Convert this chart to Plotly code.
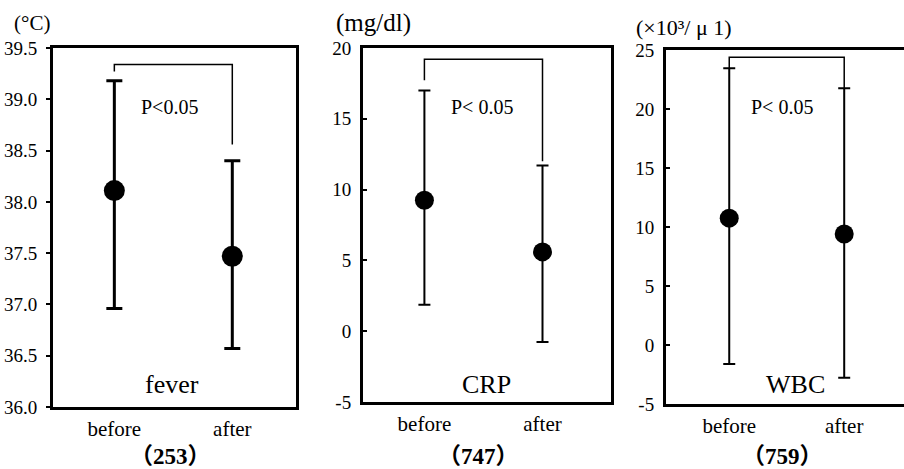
import plotly.graph_objects as go

# ---------------- data ----------------
categories = ["before", "after"]
cat_pos = [0, 1]

fever_mean = [38.11, 37.47]
fever_upper = [39.18, 38.40]
fever_lower = [36.96, 36.57]

crp_mean = [9.25, 5.6]
crp_upper = [17.0, 11.7]
crp_lower = [1.86, -0.77]

wbc_mean = [10.75, 9.4]
wbc_upper = [23.45, 21.75]
wbc_lower = [-1.6, -2.77]

bracket_top = [39.34, 19.2, 24.38]
bracket_left_end = [39.27, 17.73, 23.45]
bracket_right_end = [38.56, 12.0, 21.75]

panel_names = ["fever", "CRP", "WBC"]
panel_units = ["(°C)", "(mg/dl)", "(×10³/ μ 1)"]
panel_counts = ["（253）", "（747）", "（759）"]
p_labels = ["P<0.05", "P< 0.05", "P< 0.05"]

fever_ticks = [36.0, 36.5, 37.0, 37.5, 38.0, 38.5, 39.0, 39.5]
fever_tick_labels = ["36.0", "36.5", "37.0", "37.5", "38.0", "38.5", "39.0", "39.5"]
crp_ticks = [-5, 0, 5, 10, 15, 20]
crp_tick_labels = ["-5", "0", "5", "10", "15", "20"]
wbc_ticks = [-5, 0, 5, 10, 15, 20, 25]
wbc_tick_labels = ["-5", "0", "5", "10", "15", "20", "25"]

y_ranges = [[36.0, 39.5], [-5, 20], [-5, 25]]

# ---------------- layout geometry (pixels) ----------------
W, H = 904, 469
boxes = [  # left, right, top, bottom
    (53, 296, 48, 407),
    (363, 611, 48, 402),
    (666, 904, 50, 404),
]
x_ranges = [[-0.52, 1.54], [-0.52, 1.58], [-0.55, 1.52]]
err_w = [3, 2, 2]
cap_w = [8, 6, 6]
dot_size = [21, 19, 19]

FONT = "Liberation Serif"
FONT_CJK = "Liberation Serif, Noto Sans CJK JP, serif"

means = [fever_mean, crp_mean, wbc_mean]
uppers = [fever_upper, crp_upper, wbc_upper]
lowers = [fever_lower, crp_lower, wbc_lower]
ticks = [fever_ticks, crp_ticks, wbc_ticks]
tick_labels = [fever_tick_labels, crp_tick_labels, wbc_tick_labels]

fig = go.Figure()
layout = dict(
    template="none",
    width=W, height=H,
    margin=dict(l=0, r=0, t=0, b=0, pad=0),
    paper_bgcolor="white", plot_bgcolor="white",
    showlegend=False,
    font=dict(family=FONT, color="black"),
    annotations=[],
)

for i in range(3):
    sfx = "" if i == 0 else str(i + 1)
    xa, ya = "x" + sfx, "y" + sfx
    m, u, lo = means[i], uppers[i], lowers[i]
    fig.add_trace(go.Scatter(
        x=cat_pos, y=m, mode="markers",
        marker=dict(color="black", size=dot_size[i]),
        error_y=dict(type="data", symmetric=False,
                     array=[u[k] - m[k] for k in range(2)],
                     arrayminus=[m[k] - lo[k] for k in range(2)],
                     color="black", thickness=err_w[i], width=cap_w[i]),
        xaxis=xa, yaxis=ya, cliponaxis=False, hoverinfo="skip",
    ))
    fig.add_trace(go.Scatter(
        x=[cat_pos[0], cat_pos[0], cat_pos[1], cat_pos[1]],
        y=[bracket_left_end[i], bracket_top[i], bracket_top[i], bracket_right_end[i]],
        mode="lines", line=dict(color="black", width=1.5),
        xaxis=xa, yaxis=ya, hoverinfo="skip",
    ))
    l, r, t, b = boxes[i]
    layout["xaxis" + sfx] = dict(
        domain=[l / W, r / W], range=x_ranges[i], anchor=ya,
        tickmode="array", tickvals=cat_pos, ticktext=categories, ticks="",
        showgrid=False, zeroline=False, fixedrange=True, automargin=False,
        showline=True, linecolor="black", linewidth=3, mirror=True,
        tickfont=dict(family=FONT, size=21, color="black"),
        ticklabelstandoff=1,
    )
    layout["yaxis" + sfx] = dict(
        domain=[1 - b / H, 1 - t / H], range=y_ranges[i], anchor=xa,
        tickmode="array", tickvals=ticks[i], ticktext=tick_labels[i],
        ticks="outside" if i == 0 else "inside", ticklen=4, tickwidth=2,
        tickcolor="black",
        showgrid=False, zeroline=False, fixedrange=True, automargin=False,
        showline=True, linecolor="black", linewidth=3, mirror=(i < 2),
        tickfont=dict(family=FONT, size=19, color="black"),
        ticklabelstandoff=5,
    )

def ann(text, px, py, size, bold=False, family=FONT):
    layout["annotations"].append(dict(
        text=("<b>%s</b>" % text) if bold else text,
        x=px / W, y=1 - py / H, xref="paper", yref="paper",
        xanchor="center", yanchor="middle", showarrow=False,
        font=dict(family=family, size=size, color="black"),
    ))

unit_x = [32, 373, 684]
unit_y = [23, 23, 27]
unit_size = [21, 25, 22]
p_x = [169, 482, 782]
name_x = [172, 486, 795]
count_x = [170, 478, 782]
for i in range(3):
    ann(panel_units[i], unit_x[i], unit_y[i], unit_size[i], family=FONT_CJK)
    ann(p_labels[i], p_x[i], 107, 20)
    ann(panel_names[i], name_x[i], 384, 26)
    ann(panel_counts[i], count_x[i], 456, 23, bold=True, family=FONT_CJK)

fig.update_layout(**layout)
fig.write_html("out.html",
               config={"displayModeBar": False, "staticPlot": True},
               post_script="document.body.style.margin='0';document.body.style.padding='0';")
